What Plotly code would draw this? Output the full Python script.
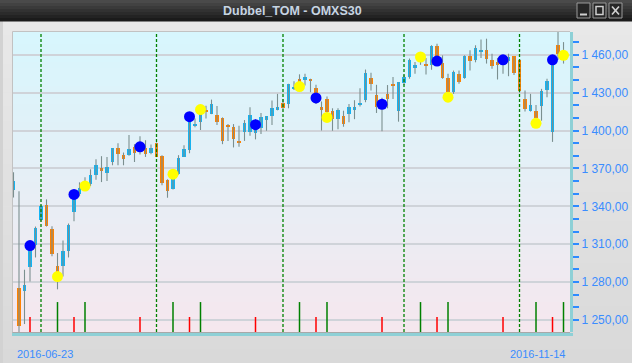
import plotly.graph_objects as go

# ---------------- data ----------------
opens = [1352.6, 1275.0, 1273.3, 1291.6, 1309.3, 1328.8, 1340.7, 1322.4, 1293.0, 1293.0,
         1304.3, 1335.4, 1349.4, 1355.5, 1357.4, 1364.6, 1370.0, 1366.2, 1375.1, 1386.0,
         1380.6, 1380.6, 1386.8, 1385.2, 1385.8, 1382.0, 1389.8, 1380.0, 1360.6, 1354.0,
         1365.4, 1379.4, 1384.7, 1403.8, 1406.6, 1416.6, 1413.1, 1412.3, 1409.6, 1404.6,
         1402.5, 1391.8, 1399.0, 1399.0, 1398.0, 1402.0, 1408.6, 1411.8, 1417.0, 1421.8,
         1421.0, 1433.0, 1440.5, 1439.8, 1440.3, 1433.6, 1417.6, 1425.0, 1415.7, 1409.1,
         1411.3, 1413.1, 1417.0, 1420.3, 1424.5, 1441.5, 1428.2, 1419.0, 1429.0, 1437.0,
         1415.7, 1437.7, 1442.2, 1449.7, 1455.0, 1452.8, 1452.0, 1466.7, 1453.7, 1441.7,
         1430.3, 1444.9, 1441.5, 1458.7, 1455.6, 1462.7, 1464.0, 1456.0, 1454.0, 1452.0,
         1455.0, 1458.7, 1456.0, 1425.0, 1415.7, 1415.7, 1419.2, 1432.4, 1399.0, 1468.1,
         1460.0]
highs = [1367.0, 1352.0, 1289.8, 1312.6, 1324.0, 1341.0, 1345.5, 1324.2, 1303.0, 1313.0,
         1326.4, 1352.0, 1359.0, 1363.0, 1369.3, 1377.3, 1379.7, 1379.0, 1386.0, 1390.0,
         1382.6, 1396.4, 1389.2, 1395.4, 1392.3, 1389.0, 1390.5, 1380.5, 1361.4, 1367.0,
         1380.5, 1388.4, 1411.4, 1409.6, 1418.0, 1419.7, 1424.5, 1419.5, 1410.4, 1405.1,
         1405.1, 1403.8, 1408.3, 1418.4, 1409.0, 1413.9, 1411.3, 1423.7, 1429.0, 1425.0,
         1437.0, 1439.0, 1444.5, 1445.0, 1441.0, 1436.2, 1423.0, 1427.0, 1417.6, 1417.6,
         1415.7, 1421.0, 1424.0, 1433.5, 1448.3, 1445.7, 1436.2, 1426.0, 1436.0, 1442.3,
         1438.3, 1444.0, 1457.0, 1454.2, 1460.0, 1457.5, 1467.5, 1468.7, 1459.5, 1445.0,
         1447.5, 1447.5, 1459.5, 1463.5, 1467.5, 1472.0, 1472.7, 1460.8, 1457.4, 1459.5,
         1460.8, 1458.7, 1456.5, 1431.6, 1429.0, 1420.3, 1433.0, 1441.0, 1456.8, 1478.5,
         1470.0]
lows = [1347.0, 1238.0, 1246.8, 1280.5, 1299.5, 1328.0, 1324.0, 1300.4, 1274.3, 1284.5,
        1299.5, 1328.2, 1347.9, 1353.4, 1356.0, 1361.0, 1359.2, 1360.0, 1372.5, 1372.5,
        1372.5, 1380.0, 1375.1, 1381.0, 1379.1, 1381.3, 1379.0, 1356.6, 1346.8, 1353.4,
        1365.0, 1379.0, 1382.0, 1402.5, 1400.4, 1409.6, 1413.0, 1404.3, 1389.2, 1391.8,
        1386.6, 1387.1, 1391.8, 1395.8, 1393.0, 1397.2, 1399.8, 1404.3, 1416.0, 1417.0,
        1417.6, 1432.0, 1433.0, 1435.6, 1430.3, 1421.0, 1400.0, 1410.6, 1399.8, 1401.0,
        1403.0, 1406.6, 1409.0, 1419.0, 1422.4, 1431.7, 1413.9, 1399.5, 1417.6, 1425.0,
        1407.0, 1436.0, 1441.0, 1445.0, 1452.0, 1444.3, 1448.1, 1452.0, 1441.0, 1429.0,
        1429.0, 1437.0, 1441.0, 1447.5, 1454.0, 1457.4, 1453.0, 1448.9, 1440.4, 1444.9,
        1443.0, 1444.0, 1430.0, 1415.0, 1415.0, 1407.8, 1407.8, 1426.4, 1391.0, 1456.0,
        1453.0]
closes = [1360.0, 1245.0, 1277.8, 1308.9, 1323.1, 1339.9, 1324.2, 1302.5, 1287.4, 1305.0,
          1325.6, 1349.4, 1354.2, 1359.0, 1364.6, 1372.5, 1368.0, 1371.3, 1386.0, 1381.3,
          1377.3, 1385.2, 1382.6, 1388.4, 1381.3, 1386.0, 1379.1, 1358.2, 1352.1, 1363.0,
          1378.1, 1385.2, 1410.4, 1405.1, 1414.0, 1414.5, 1421.0, 1406.6, 1391.8, 1403.0,
          1393.2, 1390.5, 1405.9, 1412.3, 1404.6, 1410.4, 1411.3, 1417.6, 1417.6, 1417.6,
          1437.0, 1434.0, 1438.7, 1442.5, 1439.3, 1429.6, 1417.0, 1414.5, 1409.1, 1416.3,
          1405.1, 1419.0, 1418.4, 1421.8, 1445.5, 1437.0, 1418.4, 1421.5, 1425.0, 1434.9,
          1438.3, 1442.7, 1456.0, 1452.0, 1457.0, 1451.3, 1467.0, 1458.2, 1441.7, 1430.3,
          1446.2, 1438.3, 1458.7, 1454.7, 1465.6, 1464.0, 1456.3, 1450.7, 1452.0, 1456.0,
          1458.2, 1445.7, 1431.6, 1417.0, 1420.3, 1409.6, 1431.6, 1439.0, 1455.2, 1460.2,
          1458.0]

month_starts = [5, 26, 49, 71, 92]

buy_idx = [3, 11, 23, 32, 44, 55, 67, 77, 89, 98]
buy_val = [1308.9, 1349.4, 1387.1, 1411.0, 1404.6, 1425.8, 1420.8, 1455.0, 1456.0, 1456.0]
sell_idx = [8, 13, 29, 34, 52, 57, 74, 79, 95, 100]
sell_val = [1284.4, 1356.0, 1365.4, 1416.6, 1434.8, 1410.4, 1458.2, 1426.4, 1405.7, 1459.5]

x_labels = ["2016-06-23", "2016-11-14"]
window_title = "Dubbel_TOM - OMXS30"

# ---------------- geometry / style ----------------
W, H = 632, 363
PL, PR, PT, PB = 13, 570, 32, 332
Y_MIN, Y_MAX = 1240.5, 1478.0
X_MIN, X_MAX = -0.09, 101.18
RED_TOP, GREEN_TOP = 1252.4, 1264.2

UP_COL = "#12b4f4"
DN_COL = "#ff8200"
WICK_COL = "#7b8f8f"
LABEL_COL = "#3a8cff"


def fx(p):
    return (p - PL) / (PR - PL)


def fy(p):
    return (PB - p) / (PB - PT)


def hexmix(c1, c2, t):
    a = [int(c1[i:i + 2], 16) for i in (1, 3, 5)]
    b = [int(c2[i:i + 2], 16) for i in (1, 3, 5)]
    return "#%02x%02x%02x" % tuple(round(a[k] + (b[k] - a[k]) * t) for k in range(3))


shapes = []

# window body gradient
NB = 24
for k in range(NB):
    y0 = 21 + (H - 21) * k / NB
    y1 = 21 + (H - 21) * (k + 1) / NB + 0.5
    shapes.append(dict(type="rect", xref="paper", yref="paper", layer="below",
                       x0=fx(0), x1=fx(W), y0=fy(y1), y1=fy(y0), line_width=0,
                       fillcolor=hexmix("#e8e8e8", "#d9d9d9", k / (NB - 1))))
# left darker strip
shapes.append(dict(type="rect", xref="paper", yref="paper", layer="below",
                   x0=fx(0), x1=fx(3), y0=fy(H), y1=fy(21), line_width=0, fillcolor="#d2d2d2"))

# plot background gradient
NP = 50
for k in range(NP):
    shapes.append(dict(type="rect", xref="x domain", yref="y domain", layer="below",
                       x0=0, x1=1, y0=1 - (k + 1) / NP - 0.002, y1=1 - k / NP,
                       line_width=0, fillcolor=hexmix("#d7f6fd", "#f5e7ee", k / (NP - 1))))

# title bar gradient
NT = 7
for k in range(NT):
    y0 = 21 * k / NT
    y1 = 21 * (k + 1) / NT + 0.4
    shapes.append(dict(type="rect", xref="paper", yref="paper", layer="above",
                       x0=fx(0), x1=fx(W), y0=fy(y1), y1=fy(y0), line_width=0,
                       fillcolor=hexmix("#4a4a4a", "#1b1b1b", k / (NT - 1))))

# window buttons
for bx0 in (577, 593, 609):
    shapes.append(dict(type="rect", xref="paper", yref="paper", layer="above",
                       x0=fx(bx0), x1=fx(bx0 + 13), y0=fy(18), y1=fy(3),
                       line=dict(color="#9a9a9a", width=1), fillcolor="#262626"))
shapes.append(dict(type="line", xref="paper", yref="paper", layer="above",
                   x0=fx(580), x1=fx(587), y0=fy(14.5), y1=fy(14.5),
                   line=dict(color="#d0d0d0", width=2)))
shapes.append(dict(type="rect", xref="paper", yref="paper", layer="above",
                   x0=fx(596), x1=fx(603), y0=fy(14.5), y1=fy(6.5),
                   line=dict(color="#d0d0d0", width=1.5), fillcolor="rgba(0,0,0,0)"))
shapes.append(dict(type="line", xref="paper", yref="paper", layer="above",
                   x0=fx(612), x1=fx(619), y0=fy(14.5), y1=fy(6.5),
                   line=dict(color="#d0d0d0", width=1.6)))
shapes.append(dict(type="line", xref="paper", yref="paper", layer="above",
                   x0=fx(612), x1=fx(619), y0=fy(6.5), y1=fy(14.5),
                   line=dict(color="#d0d0d0", width=1.6)))

# plot borders
shapes.append(dict(type="line", xref="paper", yref="paper", layer="above",
                   x0=fx(PL - 0.5), x1=fx(PR), y0=fy(PT - 0.5), y1=fy(PT - 0.5),
                   line=dict(color="#c2c2c2", width=1)))
shapes.append(dict(type="line", xref="paper", yref="paper", layer="above",
                   x0=fx(PL - 0.5), x1=fx(PL - 0.5), y0=fy(PT - 0.5), y1=fy(PB + 1),
                   line=dict(color="#c2c2c2", width=1)))
shapes.append(dict(type="line", xref="paper", yref="paper", layer="above",
                   x0=fx(PL - 0.5), x1=fx(PR), y0=fy(PB + 0.5), y1=fy(PB + 0.5),
                   line=dict(color="#a8a8a8", width=1)))
shapes.append(dict(type="line", xref="paper", yref="paper", layer="above",
                   x0=fx(PL - 1), x1=fx(PR + 3), y0=fy(PB + 2.5), y1=fy(PB + 2.5),
                   line=dict(color="#8ed0d6", width=3)))

# month-start dashed lines
for m in month_starts:
    shapes.append(dict(type="line", xref="x", yref="y domain", layer="above",
                       x0=m, x1=m, y0=0, y1=1,
                       line=dict(color="#008200", width=1.3, dash="3px,2px")))

# ---------------- traces ----------------
n = len(opens)
idx = list(range(n))

fig = go.Figure()

# signal bars at bottom
rx, ry = [], []
for i in buy_idx:
    rx += [i, i, None]
    ry += [Y_MIN, RED_TOP, None]
gx, gy = [], []
for i in sell_idx:
    gx += [i, i, None]
    gy += [Y_MIN, GREEN_TOP, None]
fig.add_trace(go.Scatter(x=rx, y=ry, mode="lines", line=dict(color="#ff0000", width=1.5),
                         hoverinfo="skip"))
fig.add_trace(go.Scatter(x=gx, y=gy, mode="lines", line=dict(color="#008000", width=1.5),
                         hoverinfo="skip"))

# wicks
wx, wy = [], []
for i in idx:
    wx += [i, i, None]
    wy += [lows[i], highs[i], None]
fig.add_trace(go.Scatter(x=wx, y=wy, mode="lines", line=dict(color=WICK_COL, width=1.1),
                         hoverinfo="skip"))

# bodies
base = [min(o, c) for o, c in zip(opens, closes)]
height = [max(abs(c - o), 1.4) for o, c in zip(opens, closes)]
cols = [UP_COL if c >= o else DN_COL for o, c in zip(opens, closes)]
fig.add_trace(go.Bar(x=idx, y=height, base=base, width=0.62,
                     marker=dict(color=cols, line=dict(width=0))))

# signal dots
fig.add_trace(go.Scatter(x=buy_idx, y=buy_val, mode="markers",
                         marker=dict(color="#0000ff", size=11, line=dict(width=0))))
fig.add_trace(go.Scatter(x=sell_idx, y=sell_val, mode="markers",
                         marker=dict(color="#ffff00", size=11, line=dict(width=0))))

annotations = [
    dict(text="<b>" + window_title + "</b>", xref="paper", yref="paper",
         x=fx(292), y=fy(11), xanchor="center", yanchor="middle", showarrow=False,
         font=dict(family="Liberation Sans", size=12.5, color="#c6d4e2")),
    dict(text=x_labels[0], xref="x", yref="paper", x=0, y=fy(354),
         xanchor="left", yanchor="middle", showarrow=False, xshift=1,
         font=dict(family="Liberation Sans", size=11, color=LABEL_COL)),
    dict(text=x_labels[-1], xref="x", yref="paper", x=n - 1, y=fy(354),
         xanchor="right", yanchor="middle", showarrow=False, xshift=3.5,
         font=dict(family="Liberation Sans", size=11, color=LABEL_COL)),
]

fig.update_layout(
    template="none",
    width=W, height=H,
    margin=dict(l=PL, r=W - PR, t=PT, b=H - PB, pad=0, autoexpand=False),
    paper_bgcolor="#e2e2e2",
    plot_bgcolor="rgba(0,0,0,0)",
    showlegend=False,
    separators=", ",
    bargap=0,
    shapes=shapes,
    annotations=annotations,
    xaxis=dict(range=[X_MIN, X_MAX], showgrid=False, zeroline=False, automargin=False,
               showticklabels=False, ticks="", showline=False, fixedrange=True),
    yaxis=dict(range=[Y_MIN, Y_MAX], side="right", tick0=1250, dtick=30, automargin=False,
               tickformat=",.2f", showgrid=True, gridcolor="#cfd3d9", gridwidth=1.5,
               zeroline=False, showline=True, linecolor="#8ed0d6", linewidth=3,
               ticks="outside", ticklen=6, tickwidth=2, tickcolor="#2e8bff",
               tickfont=dict(family="Liberation Sans", size=12, color=LABEL_COL),
               minor=dict(dtick=10, tick0=1250, ticks="outside", ticklen=6, tickwidth=2,
                          tickcolor="#2e8bff", showgrid=False),
               fixedrange=True),
)

fig.write_html(
    "out.html",
    config={"displayModeBar": False},
    post_script="document.body.style.margin='0px';document.body.style.overflow='hidden';",
)
